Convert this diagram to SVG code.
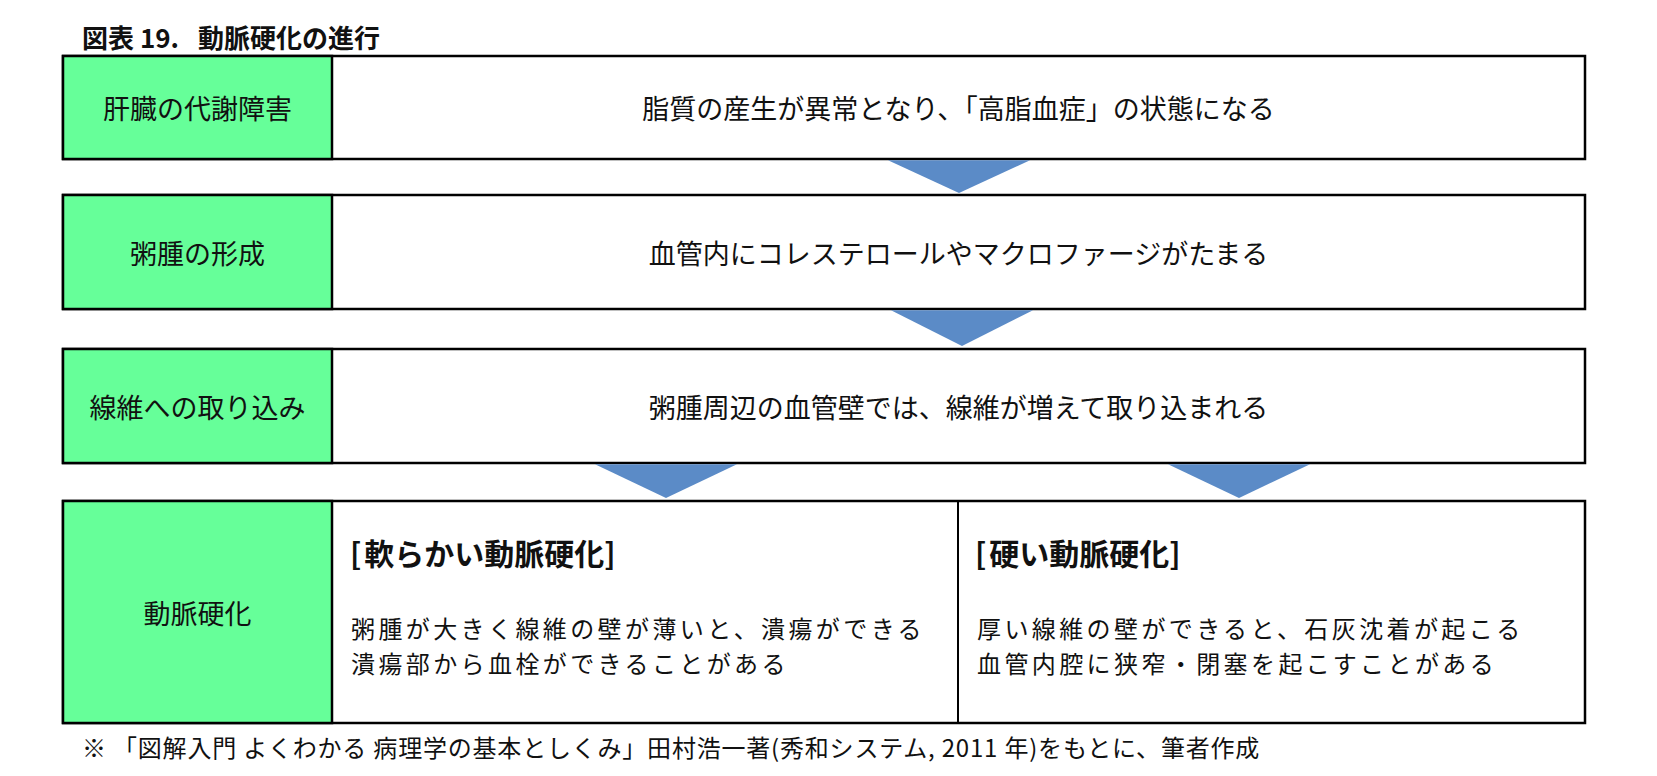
<svg xmlns="http://www.w3.org/2000/svg" width="1657" height="776" viewBox="0 0 1657 776">
<style>
text{font-family:"Noto Sans CJK JP","Noto Sans CJK SC",sans-serif;fill:#111;}
.t{font-size:27px;}
.s{font-size:24px;letter-spacing:3.4px;}
.h{font-size:30px;font-weight:bold;}
.c{text-anchor:middle;}
.b{font-weight:bold;}
.box{fill:#fff;stroke:#000;stroke-width:2.5;}
.lab{fill:#66FF99;stroke:#000;stroke-width:2.5;}
.div{stroke:#000;stroke-width:2;}
.arr{fill:#5B8BC7;}
.foot{font-size:24px;letter-spacing:0.8px;}
</style>
<rect width="1657" height="776" fill="#fff"/>
<text class="b" x="82" y="47.5" style="font-size:26px">図表 19. <tspan x="198">動脈硬化の進行</tspan></text>

<g id="row1">
<rect class="box" x="63" y="56" width="1522" height="103"/>
<rect class="lab" x="63" y="56" width="269" height="103"/>
<text class="t c" x="197.5" y="119">肝臓の代謝障害</text>
<text class="t c" x="958.5" y="119">脂質の産生が異常となり、「高脂血症」の状態になる</text>
</g>

<g id="row2">
<rect class="box" x="63" y="195" width="1522" height="114"/>
<rect class="lab" x="63" y="195" width="269" height="114"/>
<text class="t c" x="197.5" y="264">粥腫の形成</text>
<text class="t c" x="958.5" y="264">血管内にコレステロールやマクロファージがたまる</text>
</g>

<g id="row3">
<rect class="box" x="63" y="349" width="1522" height="114"/>
<rect class="lab" x="63" y="349" width="269" height="114"/>
<text class="t c" x="197.5" y="418">線維への取り込み</text>
<text class="t c" x="958.5" y="418">粥腫周辺の血管壁では、線維が増えて取り込まれる</text>
</g>

<g id="row4">
<rect class="box" x="63" y="501" width="1522" height="222"/>
<rect class="lab" x="63" y="501" width="269" height="222"/>
<line class="div" x1="958" y1="501" x2="958" y2="723"/>
<text class="t c" x="197.5" y="624">動脈硬化</text>
<g id="soft">
<text class="h" x="350" y="564.5">[<tspan dx="3">軟らかい動脈硬化</tspan>]</text>
<text class="s" x="351" y="638">粥腫が大きく線維の壁が薄いと、潰瘍ができる</text>
<text class="s" x="351" y="673">潰瘍部から血栓ができることがある</text>
</g>
<g id="hard">
<text class="h" x="975" y="564.5">[<tspan dx="3">硬い動脈硬化</tspan>]</text>
<text class="s" x="977" y="638">厚い線維の壁ができると、石灰沈着が起こる</text>
<text class="s" x="977" y="673">血管内腔に狭窄・閉塞を起こすことがある</text>
</g>
</g>

<g id="connectors">
<polygon class="arr" points="888,160.3 1030,160.3 959,193"/>
<polygon class="arr" points="891,310.3 1033,310.3 962,346"/>
<polygon class="arr" points="595,464.3 737,464.3 666,498"/>
<polygon class="arr" points="1168,464.3 1310,464.3 1239,498"/>
</g>

<text class="foot" x="82" y="757">※ 「図解入門 よくわかる 病理学の基本としくみ」田村浩一著(秀和システム, 2011 年)をもとに、筆者作成</text>
</svg>
